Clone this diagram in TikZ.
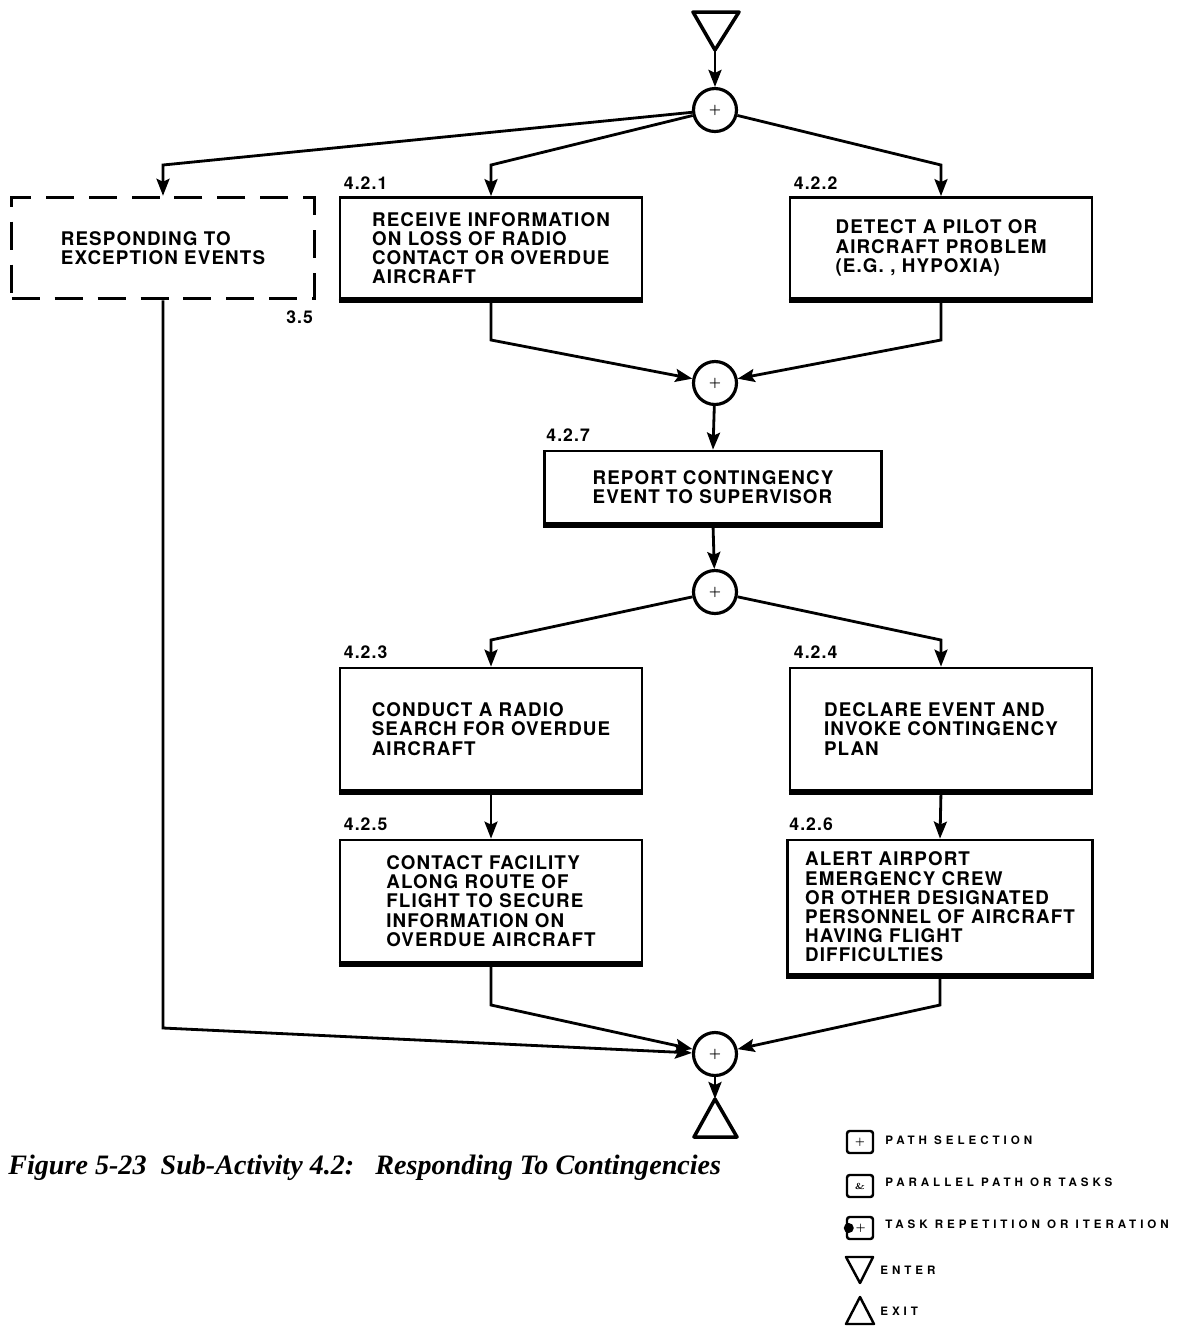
\documentclass[tikz,border=0pt]{standalone}
\usepackage{fontspec}
\newfontfamily\taskfont{TeX Gyre Heros}[LetterSpace=6]
\newfontfamily\keyfont{TeX Gyre Heros}[LetterSpace=34]
\newfontfamily\capfont{Liberation Serif}
\usetikzlibrary{calc, positioning}
\usetikzlibrary{arrows.meta}

\tikzset{
  task/.style={draw, line width=1.6pt, minimum width=6.04cm, minimum height=2.02cm,
    align=left, inner sep=0pt, font=\taskfont\bfseries\fontsize{10.7}{10.9}\selectfont},
  sel/.style={draw, circle, line width=1.8pt, minimum size=0.86cm, inner sep=0pt,
    font=\bfseries\scriptsize},
  num/.style={anchor=south west, inner sep=0pt, font=\taskfont\bfseries\fontsize{10}{10}\selectfont},
  link/.style={line width=1.6pt},
  arr/.style={link, -{Stealth[length=3.4mm, width=2.6mm, inset=0.6mm]}},
  keybox/.style={draw, rounded corners=1.5pt, line width=1.4pt, minimum width=0.52cm,
    minimum height=0.44cm, inner sep=0pt, font=\bfseries\tiny},
  keytext/.style={anchor=west, inner sep=0pt, font=\keyfont\bfseries\fontsize{6.6}{7}\selectfont},
}

\begin{document}
\begin{tikzpicture}[x=0.02cm, y=-0.02cm]
\useasboundingbox (0,0) rectangle (1185,1330);

% enter, selection and the four top tasks
\draw[line width=2pt, line join=round] (693,12) -- (739,12) -- (715,50) -- cycle;
\coordinate (enter) at (715,50);
\node[sel] (sel1) at (715,110) {+};

\node[task, dash pattern=on 0.56cm off 0.3cm, line width=2pt, minimum width=6.06cm] (exc) at (163,248)
  {RESPONDING TO\\EXCEPTION EVENTS};
\node[task] (t421) at (491,248) {RECEIVE INFORMATION\\ON LOSS OF RADIO\\CONTACT OR OVERDUE\\AIRCRAFT};
\node[task] (t422) at (941,248) {DETECT A PILOT OR\\AIRCRAFT PROBLEM\\(E.G. , HYPOXIA)};

\node[num, anchor=north east] at ($(exc.south east)+(-3,10)$) {3.5};
\node[num] at ($(t421.north west)+(5,-6)$) {4.2.1};
\node[num] at ($(t422.north west)+(5,-6)$) {4.2.2};

\coordinate (e1) at (exc.north |- 0,165);
\coordinate (e2) at (t421.north |- 0,165);
\coordinate (e3) at (t422.north |- 0,165);
\draw[arr] (enter) -- (sel1);
\draw[arr] (sel1) -- (e1) -- (exc.north);
\draw[arr] (sel1) -- (e2) -- (t421.north);
\draw[arr] (sel1) -- (e3) -- (t422.north);

% join and report
\node[sel] (sel2) at (715,383) {+};
\coordinate (j1) at (t421.south |- 0,340);
\coordinate (j2) at (t422.south |- 0,340);
\draw[arr] (t421.south) -- (j1) -- (sel2);
\draw[arr] (t422.south) -- (j2) -- (sel2);

\node[task, minimum width=6.74cm, minimum height=1.44cm] (t427) at (713,487)
  {REPORT CONTINGENCY\\EVENT TO SUPERVISOR};
\node[num] at ($(t427.north west)+(3,-8)$) {4.2.7};
\draw[arr] (sel2) -- (t427.north);

\node[sel] (sel3) at (715,592) {+};
\draw[arr] (t427.south) -- (sel3);

% the two branches
\node[task, minimum height=2.44cm] (t423) at (491,729) {CONDUCT A RADIO\\SEARCH FOR OVERDUE\\AIRCRAFT};
\node[task, minimum height=2.44cm] (t424) at (941,729) {DECLARE EVENT AND\\INVOKE CONTINGENCY\\PLAN};
\node[task, minimum height=2.44cm] (t425) at (491,901)
  {CONTACT FACILITY\\ALONG ROUTE OF\\FLIGHT TO SECURE\\INFORMATION ON\\OVERDUE AIRCRAFT};
\node[task, minimum width=6.1cm, minimum height=2.68cm] (t426) at (940,907)
  {ALERT AIRPORT\\EMERGENCY CREW\\OR OTHER DESIGNATED\\PERSONNEL OF AIRCRAFT\\HAVING FLIGHT\\DIFFICULTIES};

\node[num] at ($(t423.north west)+(5,-8)$) {4.2.3};
\node[num] at ($(t424.north west)+(5,-8)$) {4.2.4};
\node[num] at ($(t425.north west)+(5,-8)$) {4.2.5};
\node[num] at ($(t426.north west)+(3,-8)$) {4.2.6};

\coordinate (b1) at (t423.north |- 0,640);
\coordinate (b2) at (t424.north |- 0,640);
\draw[arr] (sel3) -- (b1) -- (t423.north);
\draw[arr] (sel3) -- (b2) -- (t424.north);
\draw[arr] (t423.south) -- (t425.north);
\draw[arr] (t424.south) -- (t426.north);

% heavier bottom edges
\foreach \t in {t421,t422,t427,t423,t424,t425,t426}
  \draw[line width=2.6pt] ([yshift=-0.5pt]\t.south west) -- ([yshift=-0.5pt]\t.south east);

% final join and exit
\node[sel] (sel4) at (715,1054) {+};
\coordinate (m1) at (exc.south |- 0,1028);
\coordinate (m2) at (t425.south |- 0,1005);
\coordinate (m3) at (t426.south |- 0,1005);
\draw[arr] (exc.south) -- (m1) -- (sel4);
\draw[arr] (t425.south) -- (m2) -- (sel4);
\draw[arr] (t426.south) -- (m3) -- (sel4);
\coordinate (exit) at (715,1099);
\draw[arr] (sel4) -- (exit);
\draw[line width=2pt, line join=round] (exit) -- (737,1137) -- (694,1137) -- cycle;

\node[anchor=west, inner sep=0pt, font=\capfont\bfseries\itshape\fontsize{16}{17}\selectfont] (cap) at (8,1168)
  {Figure 5-23\ \ Sub-Activity 4.2:\ \ \ Responding To Contingencies};

% key
\node[keybox] (k1) at (860,1142) {+};
\node[keybox] (k2) at (860,1186) {\&};
\node[keybox] (k3) at (860,1228) {\,+};
\fill (k3.west) ++(3,0) circle (0.1cm);
\draw[line width=1.4pt, line join=round] (846,1257) -- (873,1257) -- (860,1283) -- cycle;
\draw[line width=1.4pt, line join=round] (860,1297) -- (874,1324) -- (846,1324) -- cycle;
\node[keytext] at (885,1140) {PATH SELECTION};
\node[keytext] at (885,1182) {PARALLEL PATH OR TASKS};
\node[keytext] at (885,1224) {TASK REPETITION OR ITERATION};
\node[keytext] at (880,1270) {ENTER};
\node[keytext] at (880,1311) {EXIT};
\end{tikzpicture}
\end{document}
